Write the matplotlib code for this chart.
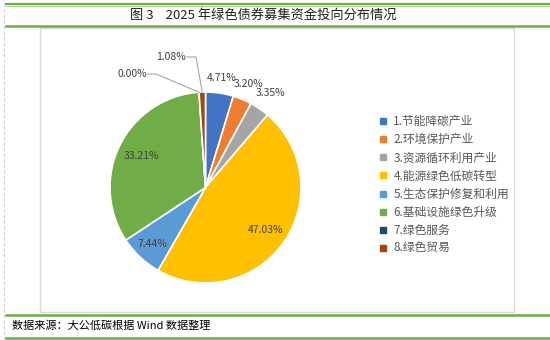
import numpy as np
import matplotlib
matplotlib.use("Agg")
import matplotlib.pyplot as plt
from matplotlib.lines import Line2D
from matplotlib.patches import Rectangle

plt.rcParams['font.family'] = ['Noto Sans CJK SC', 'DejaVu Sans']

# 2025年绿色债券募集资金投向（占比 %）
categories = ['1.节能降碳产业', '2.环境保护产业', '3.资源循环利用产业', '4.能源绿色低碳转型',
              '5.生态保护修复和利用', '6.基础设施绿色升级', '7.绿色服务', '8.绿色贸易']
shares = [4.71, 3.20, 3.35, 47.03, 7.44, 33.21, 0.00, 1.08]
colors = ['#4472C4', '#ED7D31', '#A5A5A5', '#FFC000', '#5B9BD5', '#70AD47', '#264478', '#9E480E']

title = '图 3    2025 年绿色债券募集资金投向分布情况'
source = '数据来源：大公低碳根据 Wind 数据整理'

W, H = 550, 340
fig = plt.figure(figsize=(W / 100, H / 100), dpi=100)
ax = fig.add_axes([0, 0, 1, 1])
ax.set_xlim(0, W)
ax.set_ylim(0, H)
ax.axis('off')

green = '#70AD47'
# header / footer rules
ax.plot([6, W], [H - 4, H - 4], color=green, lw=1.6)
ax.plot([6, W], [H - 5.5, H - 5.5], color='#A9D18E', lw=0.8)
ax.plot([6, W], [H - 26, H - 26], color=green, lw=1.8)
ax.plot([6, W], [H - 315, H - 315], color=green, lw=1.8)
ax.plot([6, W], [H - 338, H - 338], color=green, lw=1.8)
ax.plot([4, 4], [0, H], color='#d0d0d0', lw=0.8, ls=(0, (3, 2)))
ax.add_patch(Rectangle((40, H - 312), 474, 284, fill=False, ec='#d9d9d9', lw=1.0))

ax.text(263, H - 15, title, ha='center', va='center', fontsize=9.5, color='#202020')
ax.text(12, H - 326, source, ha='left', va='center', fontsize=8, color='#000000')

# pie
cx, cy, r = 205.5, H - 187.5, 95.5
wedges, _ = ax.pie(shares, colors=colors, startangle=90, counterclock=False,
                   center=(cx, cy), radius=r, frame=True,
                   wedgeprops=dict(edgecolor='white', linewidth=1.2))
ax.set_xlim(0, W)
ax.set_ylim(0, H)
ax.set_aspect('equal')
ax.axis('off')

# label radius (fraction of r) for each slice; small slices get leader lines
label_r = [1.16, 1.18, 1.20, 0.77, 0.81, 0.75, None, None]
lbl_color = '#404040'
for w, v, f in zip(wedges, shares, label_r):
    if f is None:
        continue
    ang = np.deg2rad((w.theta1 + w.theta2) / 2)
    ax.text(cx + f * r * np.cos(ang), cy + f * r * np.sin(ang), f'{v:.2f}%',
            ha='center', va='center', fontsize=7.5, color=lbl_color)

# leader-line labels for the two tiny slices
for idx, (tx, ty, elbow) in zip([7, 6], [(171, H - 57, 196), (132, H - 74, 156)]):
    w = wedges[idx]
    ang = np.deg2rad((w.theta1 + w.theta2) / 2)
    ex, ey = cx + r * np.cos(ang), cy + r * np.sin(ang)
    ax.plot([tx + 16, elbow, ex], [ty, ty, ey], color='#A6A6A6', lw=0.8)
    ax.text(tx, ty, f'{shares[idx]:.2f}%', ha='center', va='center',
            fontsize=7.5, color=lbl_color)

handles = [Line2D([], [], marker='s', ls='', markersize=4.5, color=c) for c in colors]
ax.legend(handles, categories, loc='upper left', bbox_to_anchor=(372, H - 109),
          bbox_transform=ax.transData, frameon=False, fontsize=8.5,
          labelcolor='#595959', handlelength=0.8, handletextpad=0.5,
          labelspacing=0.44, borderpad=0)

fig.savefig('out.png', dpi=100)
